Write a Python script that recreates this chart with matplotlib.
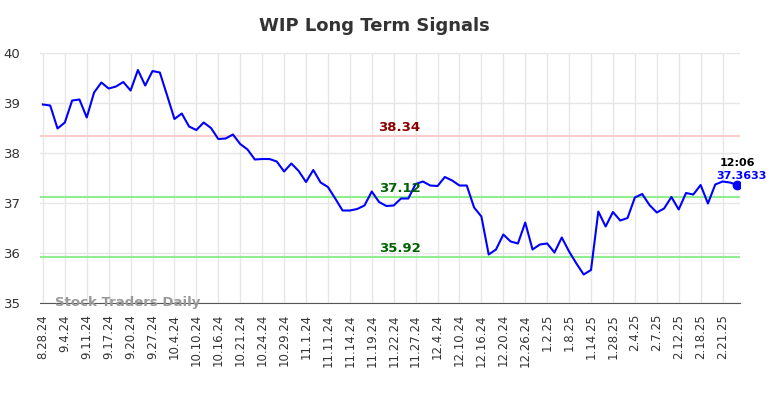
import matplotlib.pyplot as plt
import numpy as np

plt.rcParams['font.family'] = 'DejaVu Sans'

# closing prices, one per trading day shown
prices = [
    38.97, 38.95, 38.49, 38.61, 39.05, 39.07, 38.71, 39.21, 39.41, 39.29,
    39.33, 39.42, 39.25, 39.66, 39.35, 39.64, 39.61, 39.15, 38.68, 38.79,
    38.53, 38.46, 38.61, 38.50, 38.28, 38.29, 38.37, 38.18, 38.07, 37.87,
    37.88, 37.88, 37.83, 37.63, 37.79, 37.64, 37.42, 37.66, 37.41, 37.32,
    37.09, 36.85, 36.85, 36.88, 36.95, 37.23, 37.02, 36.94, 36.95, 37.09,
    37.09, 37.38, 37.43, 37.35, 37.34, 37.52, 37.45, 37.35, 37.35, 36.91,
    36.73, 35.97, 36.07, 36.37, 36.23, 36.19, 36.61, 36.07, 36.17, 36.19,
    36.01, 36.31, 36.03, 35.79, 35.57, 35.66, 36.83, 36.53, 36.82, 36.65,
    36.70, 37.11, 37.18, 36.96, 36.81, 36.89, 37.12, 36.87, 37.20, 37.17,
    37.36, 36.99, 37.37, 37.43, 37.41, 37.3633,
]

tick_labels = [
    "8.28.24", "9.4.24", "9.11.24", "9.17.24", "9.20.24", "9.27.24", "10.4.24",
    "10.10.24", "10.16.24", "10.21.24", "10.24.24", "10.29.24", "11.1.24",
    "11.11.24", "11.14.24", "11.19.24", "11.22.24", "11.27.24", "12.4.24",
    "12.10.24", "12.16.24", "12.20.24", "12.26.24", "1.2.25", "1.8.25",
    "1.14.25", "1.28.25", "2.4.25", "2.7.25", "2.12.25", "2.18.25", "2.21.25",
]

resistance = 38.34
support_hi = 37.12
support_lo = 35.92
last_time = "12:06"

x = np.arange(len(prices))

fig = plt.figure(figsize=(7.84, 3.98), dpi=100)
ax = fig.add_axes([0.051, 0.2387, 0.893, 0.6281])

ax.plot(x, prices, color="blue", lw=1.5, zorder=3)
ax.plot(x[-1], prices[-1], "o", color="blue", ms=6, zorder=4)

ax.axhline(resistance, color="#ffcccc", lw=1.5, zorder=2)
ax.axhline(support_hi, color="#90ee90", lw=1.5, zorder=2)
ax.axhline(support_lo, color="#90ee90", lw=1.5, zorder=2)

mid = 48.8
ax.text(mid, resistance + 0.04, f"{resistance:.2f}", color="#8b0000",
        fontsize=9.5, fontweight="bold", ha="center", va="bottom")
ax.text(mid, support_hi + 0.04, f"{support_hi:.2f}", color="#006400",
        fontsize=9.5, fontweight="bold", ha="center", va="bottom")
ax.text(mid, support_lo + 0.04, f"{support_lo:.2f}", color="#006400",
        fontsize=9.5, fontweight="bold", ha="center", va="bottom")

ax.text(x[-1] + 0.1, prices[-1] + 0.33, last_time, color="black",
        fontsize=8, fontweight="bold", ha="center", va="bottom")
ax.text(x[-1] + 0.6, prices[-1] + 0.07, f"{prices[-1]:.4f}", color="blue",
        fontsize=8, fontweight="bold", ha="center", va="bottom")

ax.text(1.6, 35.0, "Stock Traders Daily", color="#999999", fontsize=9.5,
        fontweight="bold", ha="left", va="center", zorder=5)

ax.set_xlim(-0.4, 95.4)
ax.set_ylim(35, 40)
ax.set_yticks([35, 36, 37, 38, 39, 40])
ax.set_xticks(x[::3])
ax.set_xticklabels(tick_labels, rotation=90, fontsize=8.5)
ax.tick_params(axis="both", length=0, colors="#333333", labelsize=9.5)
ax.tick_params(axis="x", labelsize=8.5, pad=8)
ax.tick_params(axis="y", pad=14)

ax.grid(True, color="#e6e6e6", lw=1)
ax.set_axisbelow(True)
for s in ["top", "right", "left"]:
    ax.spines[s].set_visible(False)
ax.spines["bottom"].set_color("#555555")

fig.text(0.478, 0.935, "WIP Long Term Signals", ha="center", va="center",
         fontsize=13, fontweight="bold", color="#333333")

fig.savefig("out.png", dpi=100)
